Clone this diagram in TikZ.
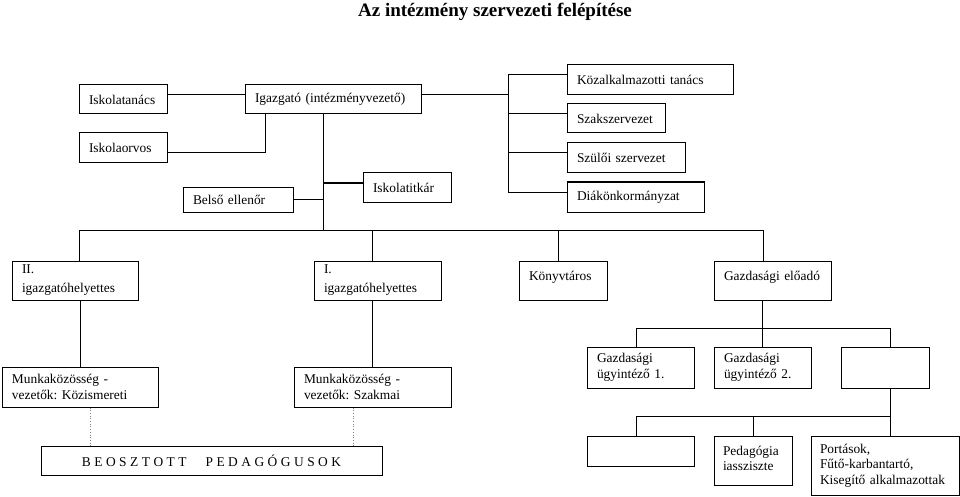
\documentclass[tikz,border=0pt]{standalone}
\usepackage{fontspec}
\setmainfont{Liberation Serif}
\frenchspacing
\hyphenpenalty=10000
\newcommand\lsp{\hspace{3.5pt}}
\begin{document}
\begin{tikzpicture}[
  box/.style={draw, line width=1pt, rectangle, inner xsep=10pt, inner ysep=1pt,
     align=left, font=\fontsize{13.4}{15.5}\selectfont, anchor=center},
  conn/.style={line width=1pt},
  dotconn/.style={line width=0.7pt, dotted, gray}
]
\useasboundingbox (0,0) rectangle (960pt,-497pt);

\node[font=\fontsize{19}{21}\selectfont\bfseries] (title) at (495pt,-12pt) {Az intézmény szervezeti felépítése};

% top group
\node[box, text width=68pt, minimum height=29pt] (isk) at (123pt,-99.5pt) {\mbox{Iskolatanács}};
\node[box, text width=156pt, minimum height=29pt] (igaz) at (333pt,-99.5pt) {\mbox{Igazgató (intézményvezető)}};
\node[box, text width=68pt, minimum height=30pt] (orv) at (123pt,-148pt) {\mbox{Iskolaorvos}};
\node[box, text width=68pt, minimum height=29pt] (tit) at (407pt,-187.5pt) {\mbox{Iskolatitkár}};
\node[box, text width=90pt, minimum height=25pt] (bel) at (238pt,-199.5pt) {\mbox{Belső ellenőr}};
\node[box, text width=146pt, minimum height=30pt] (koz) at (650pt,-80pt) {\mbox{Közalkalmazotti tanács}};
\node[box, text width=78pt, minimum height=29pt] (szak) at (616pt,-118.5pt) {\mbox{Szakszervezet}};
\node[box, text width=98pt, minimum height=30pt] (szul) at (626pt,-158pt) {\mbox{Szülői szervezet}};
\node[box, text width=117pt, minimum height=30pt] (diak) at (635.5pt,-197pt) {\mbox{Diákönkormányzat}};

% second row
\node[box, font=\fontsize{13.4}{19}\selectfont, text width=106pt, minimum height=39pt] (h2) at (75pt,-280.5pt) {II.\\\mbox{igazgatóhelyettes}};
\node[box, font=\fontsize{13.4}{19}\selectfont, text width=107pt, minimum height=39pt] (h1) at (377.5pt,-280.5pt) {I.\\\mbox{igazgatóhelyettes}};
\node[box, text width=68pt, minimum height=39pt, text depth=10pt] (konyv) at (563pt,-280.5pt) {\mbox{Könyvtáros}};
\node[box, text width=97pt, minimum height=39pt, text depth=10pt] (gel) at (772.5pt,-280.5pt) {\mbox{Gazdasági előadó}};

% third row
\node[box, text width=136pt, minimum height=40pt] (mk1) at (80pt,-387pt) {\mbox{Munkaközösség -}\\\mbox{vezetők: Közismereti}};
\node[box, text width=137pt, minimum height=40pt] (mk2) at (372.5pt,-387pt) {\mbox{Munkaközösség -}\\\mbox{vezetők: Szakmai}};
\node[box, text width=87pt, minimum height=41pt] (gu1) at (640.5pt,-367.5pt) {\mbox{Gazdasági}\\\mbox{ügyintéző 1.}};
\node[box, text width=77pt, minimum height=41pt] (gu2) at (762.5pt,-367.5pt) {\mbox{Gazdasági}\\\mbox{ügyintéző 2.}};
\node[box, text width=68pt, minimum height=41pt] (e1) at (885pt,-367.5pt) {};

% bottom row
\node[box, text width=321pt, minimum height=29pt, align=center] (bp) at (211.5pt,-460.5pt)
  {\mbox{B\lsp E\lsp O\lsp S\lsp Z\lsp T\lsp O\lsp T\lsp T\hspace{19pt}P\lsp E\lsp D\lsp A\lsp G\lsp Ó\lsp G\lsp U\lsp S\lsp O\lsp K}};
\node[box, text width=87pt, minimum height=30pt] (e2) at (640.5pt,-451pt) {};
\node[box, text width=60pt, inner xsep=9pt, minimum height=49pt, text depth=20pt] (pa) at (753pt,-460.5pt) {\mbox{Pedagógia}\\\mbox{iassziszte}};
\node[box, text width=130pt, inner xsep=9pt, minimum height=59pt] (port) at (885pt,-465.5pt) {\mbox{Portások,}\\\mbox{Fűtő-karbantartó,}\\\mbox{Kisegítő alkalmazottak}};

% connectors: top group
\draw[conn] ([yshift=5pt]isk.east) -- ([yshift=5pt]igaz.west);
\coordinate (trunkT) at ([xshift=-10pt]igaz.south);
\coordinate (orvT) at ([xshift=-68pt]igaz.south);
\coordinate (orvE) at ([yshift=-5pt]orv.east);
\draw[conn] (orvE) -- (orvE -| orvT) -- (orvT);
\coordinate (titW) at ([yshift=4.5pt]tit.west);
\draw[conn] (titW) -- (titW -| trunkT);
\draw[conn] (bel.east) -- (bel.east -| trunkT);

\coordinate (kozW) at ([yshift=5pt]koz.west);
\coordinate (szakW) at ([yshift=4.5pt]szak.west);
\coordinate (szulW) at ([yshift=5pt]szul.west);
\coordinate (diakW) at ([yshift=5pt]diak.west);
\coordinate (rbus) at ([xshift=-58pt]kozW);
\coordinate (igE) at ([yshift=5pt]igaz.east);
\draw[conn] (kozW) -- (rbus) -- (rbus |- diakW) -- (diakW);
\draw[conn] (szakW) -- (szakW -| rbus);
\draw[conn] (szulW) -- (szulW -| rbus);
\draw[conn] (igE) -- (igE -| rbus);

% second-row bus
\coordinate (busL) at ([xshift=4pt,yshift=30pt]h2.north);
\draw[conn] ([xshift=4pt]h2.north) -- (busL) -| ([xshift=-9.5pt]gel.north);
\draw[conn] (trunkT) -- (trunkT |- busL);
\draw[conn] ([xshift=-5.5pt]h1.north) -- ++(0,30pt);
\draw[conn] ([xshift=-5pt]konyv.north) -- ++(0,30pt);

% deputies to work communities
\draw[conn] (mk1.north) -- (mk1.north |- h2.south);
\draw[conn] (mk2.north) -- (mk2.north |- h1.south);

% dotted to teachers
\coordinate (d1) at ([xshift=10pt]mk1.south);
\coordinate (d2) at ([xshift=-19.5pt]mk2.south);
\draw[dotconn] (d1) -- (d1 |- bp.north);
\draw[dotconn] (d2) -- (d2 |- bp.north);

% economic branch
\draw[conn] (gu2.north) -- (gu2.north |- gel.south);
\draw[conn] ([xshift=-4.5pt]gu1.north) -- ++(0,18pt) -| ([xshift=5pt]e1.north);

\draw[conn] ([xshift=-4.5pt]e2.north) -- ++(0,19pt) -| ([xshift=5pt]port.north);
\draw[conn] (pa.north) -- ++(0,19pt);
\draw[conn] ([xshift=5pt]e1.south) -- ([xshift=5pt,yshift=19pt]port.north);
\end{tikzpicture}
\end{document}
